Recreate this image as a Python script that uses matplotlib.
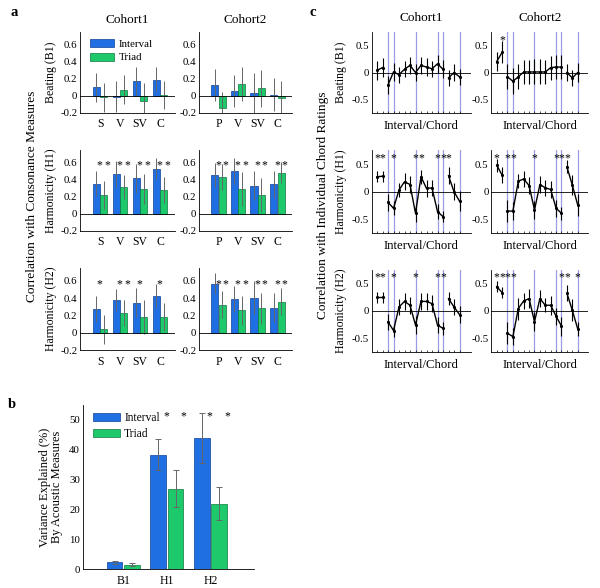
import numpy as np
import matplotlib
matplotlib.use("Agg")
import matplotlib.pyplot as plt
from matplotlib.patches import Patch

plt.rcParams['font.family'] = ['Liberation Serif', 'DejaVu Serif']
plt.rcParams['axes.linewidth'] = 0.6

# ---------------- Panel a data ----------------
cats_c1 = ["S", "V", "SV", "C"]
cats_c2 = ["P", "V", "SV", "C"]
row_labels_a = ["Beating (B1)", "Harmonicity (H1)", "Harmonicity (H2)"]

a_c1_b1_int = [0.10, -0.01, 0.17, 0.19]
a_c1_b1_tri = [-0.02, 0.07, -0.06, 0.01]
a_c1_b1_int_err = [0.17, 0.18, 0.17, 0.15]
a_c1_b1_tri_err = [0.17, 0.17, 0.21, 0.17]
a_c2_b1_int = [0.13, 0.06, 0.03, 0.015]
a_c2_b1_tri = [-0.14, 0.14, 0.09, -0.03]
a_c2_b1_int_err = [0.19, 0.19, 0.24, 0.20]
a_c2_b1_tri_err = [0.19, 0.20, 0.22, 0.20]

a_c1_h1_int = [0.355, 0.47, 0.415, 0.53]
a_c1_h1_tri = [0.22, 0.31, 0.29, 0.28]
a_c1_h1_int_err = [0.15, 0.15, 0.17, 0.12]
a_c1_h1_tri_err = [0.17, 0.14, 0.18, 0.15]
a_c2_h1_int = [0.46, 0.505, 0.33, 0.345]
a_c2_h1_tri = [0.435, 0.295, 0.22, 0.485]
a_c2_h1_int_err = [0.14, 0.15, 0.17, 0.16]
a_c2_h1_tri_err = [0.15, 0.20, 0.20, 0.12]

a_c1_h2_int = [0.28, 0.38, 0.35, 0.43]
a_c1_h2_tri = [0.04, 0.23, 0.18, 0.18]
a_c1_h2_int_err = [0.15, 0.13, 0.17, 0.14]
a_c1_h2_tri_err = [0.17, 0.15, 0.20, 0.16]
a_c2_h2_int = [0.57, 0.395, 0.405, 0.29]
a_c2_h2_tri = [0.325, 0.26, 0.285, 0.36]
a_c2_h2_int_err = [0.12, 0.15, 0.19, 0.17]
a_c2_h2_tri_err = [0.16, 0.17, 0.18, 0.16]

# significance flags (interval, triad) per category
a_c1_b1_sig = [(0, 0), (0, 0), (0, 0), (0, 0)]
a_c2_b1_sig = [(0, 0), (0, 0), (0, 0), (0, 0)]
a_c1_h1_sig = [(1, 1), (1, 1), (1, 1), (1, 1)]
a_c2_h1_sig = [(1, 1), (1, 1), (1, 1), (1, 1)]
a_c1_h2_sig = [(1, 0), (1, 1), (1, 0), (1, 0)]
a_c2_h2_sig = [(1, 1), (1, 1), (1, 1), (1, 1)]

# ---------------- Panel b data ----------------
b_cats = ["B1", "H1", "H2"]
b_int = [2.3, 38.4, 43.9]
b_tri = [1.6, 27.0, 22.0]
b_int_err = [0.6, 5.2, 8.3]
b_tri_err = [0.6, 6.2, 5.6]
b_sig = [(0, 0), (1, 1), (1, 1)]

# ---------------- Panel c data ----------------
c_x = list(range(1, 17))
c_segments = [(1, 2), (3, 13), (14, 16)]
c_vlines = [3, 4, 8, 12, 13, 16]

c1_b1 = [0.04, 0.09, -0.23, 0.01, -0.04, 0.06, 0.13, 0.00, 0.13, 0.10, 0.07, 0.16, 0.06, -0.10, 0.00, -0.08]
c1_b1_err = [0.17, 0.17, 0.16, 0.17, 0.15, 0.15, 0.16, 0.15, 0.15, 0.16, 0.15, 0.17, 0.17, 0.15, 0.15, 0.15]
c2_b1 = [0.20, 0.37, -0.08, -0.16, -0.08, 0.01, 0.01, 0.01, 0.01, 0.01, 0.09, 0.10, 0.10, 0.00, -0.10, 0.00]
c2_b1_err = [0.18, 0.20, 0.23, 0.24, 0.23, 0.22, 0.22, 0.23, 0.23, 0.22, 0.22, 0.22, 0.22, 0.16, 0.14, 0.17]

c1_h1 = [0.27, 0.28, -0.19, -0.30, 0.03, 0.18, 0.13, -0.39, 0.27, 0.06, 0.07, -0.36, -0.45, 0.29, 0.00, -0.17]
c1_h1_err = [0.10, 0.10, 0.15, 0.13, 0.13, 0.15, 0.15, 0.15, 0.13, 0.15, 0.15, 0.13, 0.10, 0.15, 0.15, 0.18]
c2_h1 = [0.48, 0.30, -0.35, -0.35, 0.19, 0.23, 0.11, -0.33, 0.13, 0.07, 0.04, -0.30, -0.39, 0.45, 0.12, -0.24]
c2_h1_err = [0.12, 0.15, 0.20, 0.17, 0.13, 0.15, 0.15, 0.17, 0.15, 0.15, 0.15, 0.15, 0.12, 0.12, 0.18, 0.20]

c1_h2 = [0.25, 0.25, -0.20, -0.36, 0.07, 0.17, 0.10, -0.26, 0.17, 0.17, 0.13, -0.26, -0.32, 0.22, 0.07, -0.07]
c1_h2_err = [0.10, 0.10, 0.15, 0.12, 0.15, 0.15, 0.15, 0.17, 0.15, 0.15, 0.15, 0.15, 0.12, 0.12, 0.15, 0.15]
c2_h2 = [0.44, 0.33, -0.41, -0.47, 0.04, 0.18, 0.22, -0.20, 0.22, 0.10, 0.10, -0.10, -0.28, 0.32, 0.01, -0.33]
c2_h2_err = [0.10, 0.10, 0.20, 0.15, 0.20, 0.15, 0.17, 0.17, 0.15, 0.13, 0.17, 0.15, 0.17, 0.15, 0.20, 0.13]

c1_b1_sig = []
c2_b1_sig = [2]
c1_h1_sig = [1, 2, 4, 8, 9, 12, 13, 14]
c2_h1_sig = [1, 3, 4, 8, 12, 13, 14]
c1_h2_sig = [1, 2, 4, 8, 12, 13]
c2_h2_sig = [1, 2, 3, 4, 13, 14, 16]

# ---------------- styles ----------------
BLUE = '#1f6fe3'
BLUE_E = '#0d3f99'
GREEN = '#1ec96c'
GREEN_E = '#0c7a3c'
ERR = '0.4'
VLINE = '#9c9ce6'

W, H = 600, 588
fig = plt.figure(figsize=(6.0, 5.88), dpi=100)


def ax_px(left, right, top, bottom):
    return fig.add_axes([left / W, 1 - bottom / H, (right - left) / W, (bottom - top) / H])


def style(ax):
    ax.spines['top'].set_visible(False)
    ax.spines['right'].set_visible(False)
    ax.tick_params(labelsize=7.8, length=0, pad=2)


def bar_panel(ax, cats, iv, tv, ie, te, sig, ylabel=None):
    x = np.arange(1, len(cats) + 1)
    w = 0.36
    off = 0.19
    ax.bar(x - off, iv, w, color=BLUE, edgecolor=BLUE_E, linewidth=0.5, zorder=2)
    ax.bar(x + off, tv, w, color=GREEN, edgecolor=GREEN_E, linewidth=0.5, zorder=2)
    ax.errorbar(x - off, iv, yerr=ie, fmt='none', ecolor=ERR, elinewidth=0.7, capsize=0, zorder=3)
    ax.errorbar(x + off, tv, yerr=te, fmt='none', ecolor=ERR, elinewidth=0.7, capsize=0, zorder=3)
    ax.axhline(0, color='k', lw=0.6, zorder=4)
    for i, (si, st) in enumerate(sig):
        if si:
            ax.text(x[i] - off + 0.17, 0.565, '*', ha='center', va='center', fontsize=8.5)
        if st:
            ax.text(x[i] + off + 0.17, 0.565, '*', ha='center', va='center', fontsize=8.5)
    ax.set_xlim(0, 4.75)
    ax.set_ylim(-0.2, 0.75)
    ax.set_yticks([-0.2, 0, 0.2, 0.4, 0.6])
    ax.set_yticklabels(['-0.2', '0', '0.2', '0.4', '0.6'])
    ax.set_xticks(x)
    ax.set_xticklabels(cats)
    style(ax)
    ax.tick_params(axis='x', labelsize=8.5, pad=4)
    if ylabel:
        ax.set_ylabel(ylabel, fontsize=8.5, labelpad=2)


rows_a = [(32.3, 112.7), (150, 230.7), (268, 350)]
a_data = [
    (a_c1_b1_int, a_c1_b1_tri, a_c1_b1_int_err, a_c1_b1_tri_err, a_c1_b1_sig,
     a_c2_b1_int, a_c2_b1_tri, a_c2_b1_int_err, a_c2_b1_tri_err, a_c2_b1_sig),
    (a_c1_h1_int, a_c1_h1_tri, a_c1_h1_int_err, a_c1_h1_tri_err, a_c1_h1_sig,
     a_c2_h1_int, a_c2_h1_tri, a_c2_h1_int_err, a_c2_h1_tri_err, a_c2_h1_sig),
    (a_c1_h2_int, a_c1_h2_tri, a_c1_h2_int_err, a_c1_h2_tri_err, a_c1_h2_sig,
     a_c2_h2_int, a_c2_h2_tri, a_c2_h2_int_err, a_c2_h2_tri_err, a_c2_h2_sig),
]
for r, (top, bot) in enumerate(rows_a):
    d = a_data[r]
    ax1 = ax_px(80, 175, top, bot)
    bar_panel(ax1, cats_c1, d[0], d[1], d[2], d[3], d[4], ylabel=row_labels_a[r])
    ax2 = ax_px(199, 292, top, bot)
    bar_panel(ax2, cats_c2, d[5], d[6], d[7], d[8], d[9])
    if r == 0:
        ax1.set_title('Cohort1', fontsize=9.5, pad=7)
        ax2.set_title('Cohort2', fontsize=9.5, pad=7)
        ax1.legend(handles=[Patch(facecolor=BLUE, edgecolor=BLUE_E, lw=0.5, label='Interval'),
                            Patch(facecolor=GREEN, edgecolor=GREEN_E, lw=0.5, label='Triad')],
                   loc='upper left', bbox_to_anchor=(0.04, 1.0), frameon=False, fontsize=7.8,
                   handlelength=2.2, handleheight=0.8, handletextpad=0.4, labelspacing=0.35,
                   borderaxespad=0.2)

fig.text(32 / W, 1 - 196 / H, 'Correlation with Consonance Measures', rotation=90,
         ha='center', va='center', fontsize=9.6)
fig.text(14 / W, 1 - 12 / H, 'a', fontsize=10.5, fontweight='bold', ha='center', va='center')

# ---------------- Panel b ----------------
axb = ax_px(82.7, 254, 405, 569.3)
xb = np.arange(1, len(b_cats) + 1)
wb, offb = 0.36, 0.2
axb.bar(xb - offb, b_int, wb, color=BLUE, edgecolor=BLUE_E, linewidth=0.5, zorder=2, label='Interval')
axb.bar(xb + offb, b_tri, wb, color=GREEN, edgecolor=GREEN_E, linewidth=0.5, zorder=2, label='Triad')
axb.errorbar(xb - offb, b_int, yerr=b_int_err, fmt='none', ecolor=ERR, elinewidth=0.7, capsize=2, capthick=0.7, zorder=3)
axb.errorbar(xb + offb, b_tri, yerr=b_tri_err, fmt='none', ecolor=ERR, elinewidth=0.7, capsize=2, capthick=0.7, zorder=3)
for i, (si, st) in enumerate(b_sig):
    if si:
        axb.text(xb[i] - offb + 0.18, 51.3, '*', ha='center', va='center', fontsize=8.5)
    if st:
        axb.text(xb[i] + offb + 0.18, 51.3, '*', ha='center', va='center', fontsize=8.5)
axb.set_xlim(0.07, 4.0)
axb.set_ylim(0, 55)
axb.set_yticks([0, 10, 20, 30, 40, 50])
axb.set_xticks(xb)
axb.set_xticklabels(b_cats)
style(axb)
axb.tick_params(axis='x', labelsize=8.5, pad=4)
axb.set_ylabel('Variance Explained (%)\nBy Acoustic Measures', fontsize=9, labelpad=4, linespacing=1.0)
axb.legend(loc='upper left', bbox_to_anchor=(0.02, 1.0), frameon=False, fontsize=8.3,
           handlelength=2.3, handleheight=0.8, handletextpad=0.4, labelspacing=0.35, borderaxespad=0.2)
fig.text(12 / W, 1 - 405 / H, 'b', fontsize=10.5, fontweight='bold', ha='center', va='center')

# ---------------- Panel c ----------------
rows_c = [(31.7, 113.3), (150.2, 233.2), (269.5, 352)]
row_labels_c = ["Beating (B1)", "Harmonicity (H1)", "Harmonicity (H2)"]
c_data = [
    (c1_b1, c1_b1_err, c1_b1_sig, c2_b1, c2_b1_err, c2_b1_sig),
    (c1_h1, c1_h1_err, c1_h1_sig, c2_h1, c2_h1_err, c2_h1_sig),
    (c1_h2, c1_h2_err, c1_h2_sig, c2_h2, c2_h2_err, c2_h2_sig),
]


def line_panel(ax, vals, errs, sig, ylabel=None):
    x = np.array(c_x)
    v = np.array(vals)
    e = np.array(errs)
    for xv in c_vlines:
        ax.axvline(xv, color=VLINE, lw=0.9, zorder=1)
    ax.axhline(0, color='k', lw=0.6, zorder=2)
    for s0, s1 in c_segments:
        m = (x >= s0) & (x <= s1)
        ax.plot(x[m], v[m], color='k', lw=1.0, zorder=3)
    ax.errorbar(x, v, yerr=e, fmt='.', color='k', ms=2.5, elinewidth=0.8, capsize=0, zorder=3)
    for s in sig:
        ax.text(s, 0.6, '*', ha='center', va='center', fontsize=8.5)
    ax.set_xlim(0, 18)
    ax.set_ylim(-0.75, 0.75)
    ax.set_yticks([-0.5, 0, 0.5])
    ax.set_yticklabels(['-0.5', '0', '0.5'])
    ax.set_xticks(x)
    ax.set_xticklabels([])
    style(ax)
    ax.tick_params(axis='x', length=1.5, direction='in', width=0.5)
    ax.set_xlabel('Interval/Chord', fontsize=9.2, labelpad=3)
    if ylabel:
        ax.set_ylabel(ylabel, fontsize=8.5, labelpad=3)


for r, (top, bot) in enumerate(rows_c):
    d = c_data[r]
    ax1 = ax_px(371.5, 470.5, top, bot)
    line_panel(ax1, d[0], d[1], d[2], ylabel=row_labels_c[r])
    ax2 = ax_px(491.3, 588.5, top, bot)
    line_panel(ax2, d[3], d[4], d[5])
    if r == 0:
        ax1.set_title('Cohort1', fontsize=9.5, pad=8)
        ax2.set_title('Cohort2', fontsize=9.5, pad=8)

fig.text(323 / W, 1 - 205 / H, 'Correlation with Individual Chord Ratings', rotation=90,
         ha='center', va='center', fontsize=9.6)
fig.text(313 / W, 1 - 12 / H, 'c', fontsize=10.5, fontweight='bold', ha='center', va='center')

fig.savefig('out.png', dpi=100)
